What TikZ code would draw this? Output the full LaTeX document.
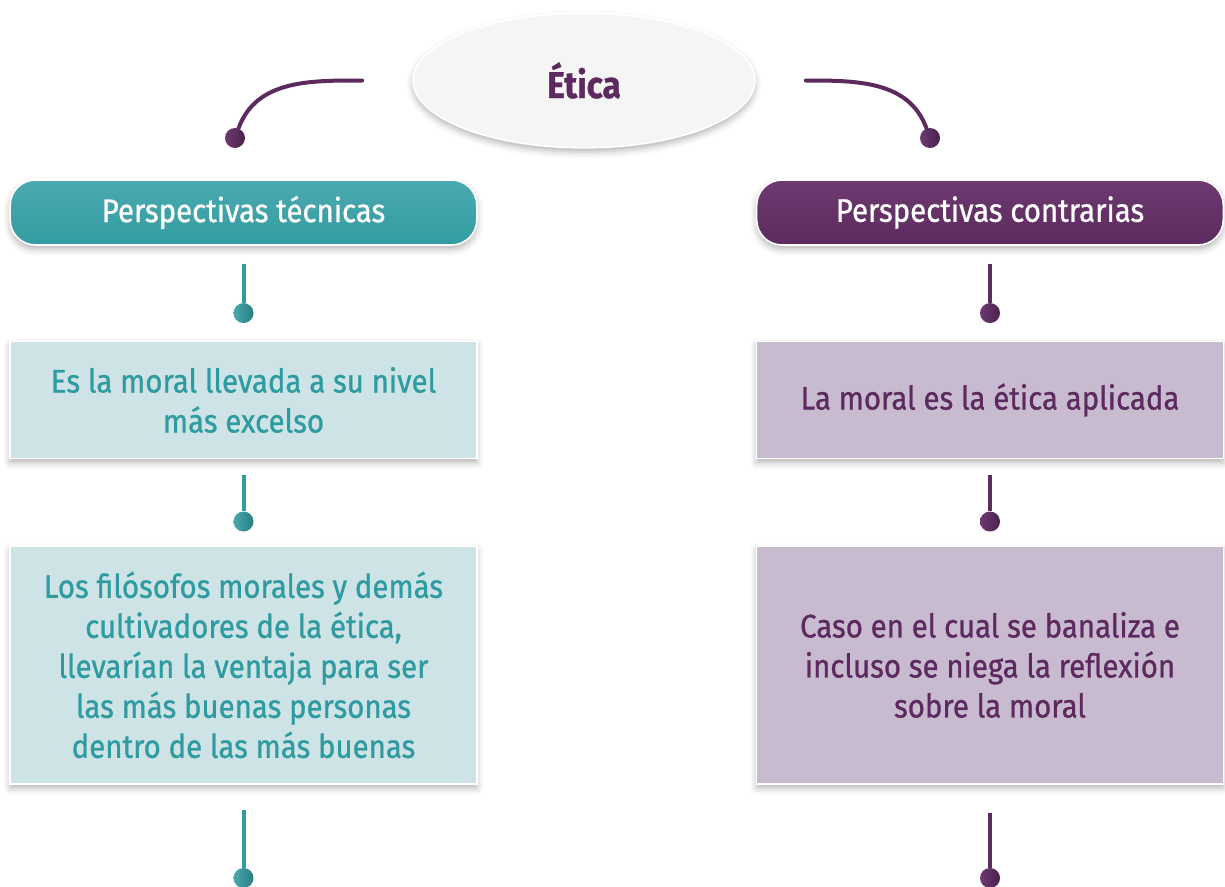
\documentclass[tikz,border=0pt]{standalone}
\usepackage{fontspec}
\setmainfont{Fira Sans}[FakeStretch=0.9, FakeBold=0.8]
\usepackage{tikz}
\usetikzlibrary{positioning, shadows.blur, shapes.geometric}
\definecolor{tealmid}{HTML}{339CA2}
\definecolor{tealtop}{HTML}{4AAAB0}
\definecolor{tealtext}{HTML}{2E9BA0}
\definecolor{teallight}{HTML}{CDE3E5}
\definecolor{plum}{HTML}{5C2A5F}
\definecolor{plumtop}{HTML}{6E3A71}
\definecolor{plumlight}{HTML}{C9BBCF}
\definecolor{pearl}{HTML}{F5F5F5}

\begin{document}
\begin{tikzpicture}[
  x=0.75pt, y=-0.75pt,
  font=\fontsize{24.5}{30}\selectfont,
  every node/.style={align=center},
  shade/.style={blur shadow={shadow xshift=0pt, shadow yshift=-3pt,
                shadow blur radius=5pt, shadow opacity=30}},
  head/.style={rectangle, rounded corners=19pt, draw=white, line width=1.2pt,
               minimum width=350pt, minimum height=48.75pt, text=white, shade},
  headteal/.style={head, top color=tealtop, bottom color=tealmid},
  headplum/.style={head, top color=plumtop, bottom color=plum},
  card/.style={rectangle, draw=white, line width=1.2pt, minimum width=350pt, shade},
  cardteal/.style={card, fill=teallight, text=tealtext},
  cardplum/.style={card, fill=plumlight, text=plum},
  dot/.style={circle, inner sep=0pt, minimum size=15pt},
  tdot/.style={dot, left color=tealtop, right color=tealmid!80!black},
  pdot/.style={dot, left color=plumtop, right color=plum!80!black},
  tline/.style={draw=tealmid, line width=3pt},
  pline/.style={draw=plum, line width=3pt, line cap=round}
]
  \useasboundingbox (0,0) rectangle (1225,886);

  \node[ellipse, fill=pearl, draw=white, line width=1.2pt, minimum width=256.5pt,
        minimum height=101pt, inner sep=0pt, shade] (etica) at (584,80.5)
    {\bfseries\fontsize{28}{30}\selectfont\color{plum}Ética};

  % left column
  \node[headteal] (hl) at (243.5,212.5) {Perspectivas técnicas};
  \node[tdot, below=42.75pt of hl] (dl1) {};
  \node[cardteal, below=13pt of dl1, minimum height=87.75pt] (bl1)
    {Es la moral llevada a su nivel\\más excelso};
  \node[tdot, below=39pt of bl1] (dl2) {};
  \node[cardteal, below=10pt of dl2, minimum height=178.5pt] (bl2)
    {Los filósofos morales y demás\\cultivadores de la ética,\\llevarían la ventaja para ser\\las más buenas personas\\dentro de las más buenas};
  \node[tdot, below=62.25pt of bl2] (dl3) {};

  % right column
  \node[headplum] (hr) at (990,212.5) {Perspectivas contrarias};
  \node[pdot, below=42.75pt of hr] (dr1) {};
  \node[cardplum, below=13pt of dr1, minimum height=87.75pt] (br1)
    {La moral es la ética aplicada};
  \node[pdot, below=39pt of br1] (dr2) {};
  \node[cardplum, below=10pt of dr2, minimum height=178.5pt] (br2)
    {Caso en el cual se banaliza e\\incluso se niega la reflexión\\sobre la moral};
  \node[pdot, below=62.25pt of br2] (dr3) {};

  % top arcs
  \node[pdot] (dl0) at (235,138) {};
  \node[pdot] (dr0) at (930,138) {};
  \draw[pline] ([xshift=-37.5pt]etica.west) to[out=180, in=70] (dl0);
  \draw[pline] ([xshift=37.5pt]etica.east) to[out=0, in=110] (dr0);

  \draw[tline] ([yshift=-13.5pt]hl.south) -- (dl1);
  \draw[tline] ([yshift=-12pt]bl1.south) -- (dl2);
  \draw[tline] ([yshift=-19pt]bl2.south) -- (dl3);
  \draw[pline, line cap=butt] ([yshift=-13.5pt]hr.south) -- (dr1);
  \draw[pline, line cap=butt] ([yshift=-12pt]br1.south) -- (dr2);
  \draw[pline, line cap=butt] ([yshift=-21pt]br2.south) -- (dr3);
\end{tikzpicture}
\end{document}
